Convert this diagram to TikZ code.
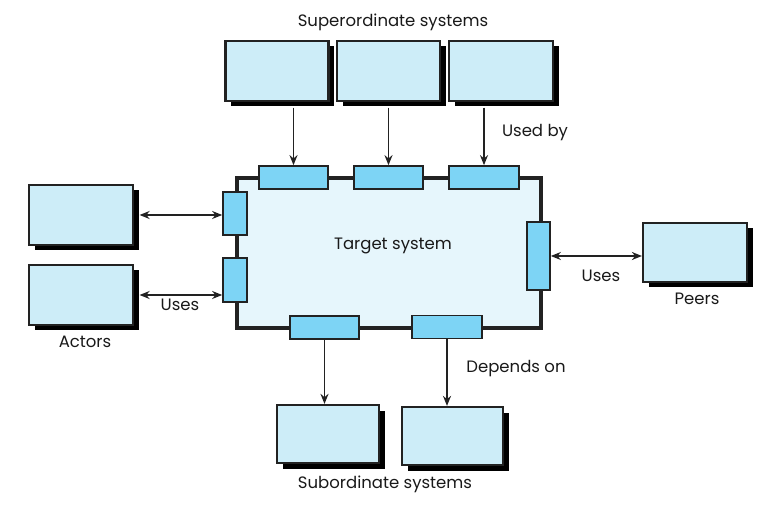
\documentclass[tikz,border=0pt]{standalone}
\usepackage{fontspec}
\setmainfont{Poppins}
\usetikzlibrary{arrows.meta,shadows}
\definecolor{boxfill}{HTML}{CDEDF8}
\definecolor{portfill}{HTML}{7DD4F5}
\definecolor{tgtfill}{HTML}{E6F6FC}
\definecolor{edge}{HTML}{222222}
\tikzset{
  sysbox/.style={draw=edge, line width=2.2pt, fill=boxfill, inner sep=0pt,
    drop shadow={shadow xshift=5.5pt, shadow yshift=-5.5pt, fill=black, opacity=1}},
  port/.style={draw=edge, line width=1.7pt, fill=portfill, inner sep=0pt},
  conn/.style={draw=edge, line width=1.9pt},
  tip/.tip={Stealth[length=10pt,width=8pt]},
  lbl/.style={font=\fontsize{16.5}{19}\selectfont, text=black!90, inner sep=0pt}
}
\begin{document}
\begin{tikzpicture}[x=1pt,y=-1pt]
\useasboundingbox (0,0) rectangle (776,510);
% target system
\node[draw=edge, line width=4.5pt, fill=tgtfill, minimum width=304pt, minimum height=150pt, inner sep=0pt] (tgt) at (389,253) {};
\node[lbl] (tgtl) at (393,246) {Target system};
% superordinate
\node[sysbox, minimum width=103pt, minimum height=60pt] (sup1) at (277,71) {};
\node[sysbox, minimum width=103pt, minimum height=60pt] (sup2) at (388.5,71) {};
\node[sysbox, minimum width=104pt, minimum height=60pt] (sup3) at (501,71) {};
% actors
\node[sysbox, minimum width=104pt, minimum height=60pt] (a1) at (81,215) {};
\node[sysbox, minimum width=104pt, minimum height=60pt] (a2) at (81,295) {};
% peers
\node[sysbox, minimum width=104pt, minimum height=59pt] (peer) at (695,252.5) {};
% subordinate
\node[sysbox, minimum width=102pt, minimum height=58pt] (s1) at (328,434) {};
\node[sysbox, minimum width=101pt, minimum height=58pt] (s2) at (452.5,436) {};
% ports
\node[port, minimum width=69pt, minimum height=23pt] (pt1) at (293.5,177.5) {};
\node[port, minimum width=69pt, minimum height=23pt] (pt2) at (388.5,177.5) {};
\node[port, minimum width=70pt, minimum height=23pt] (pt3) at (484,177.5) {};
\node[port, minimum width=24pt, minimum height=43pt] (pl1) at (235,213.5) {};
\node[port, minimum width=24pt, minimum height=44pt] (pl2) at (235,280) {};
\node[port, minimum width=23pt, minimum height=68pt] (pr) at (538.5,256) {};
\node[port, minimum width=69pt, minimum height=23pt] (pb1) at (324.5,327.5) {};
\node[port, minimum width=70pt, minimum height=23pt] (pb2) at (447,327) {};
% connectors
\draw[conn,-tip] ([yshift=-5.5pt]pt1.north |- sup1.south) -- (pt1.north);
\draw[conn,-tip] ([yshift=-5.5pt]pt2.north |- sup2.south) -- (pt2.north);
\draw[conn,-tip] ([yshift=-5.5pt]pt3.north |- sup3.south) -- (pt3.north);
\draw[conn,tip-tip] ([xshift=5.5pt]a1.east) -- (pl1.west |- a1.east);
\draw[conn,tip-tip] ([xshift=5.5pt]a2.east) -- (pl2.west |- a2.east);
\draw[conn,tip-tip] (pr.east) -- (pr.east -| peer.west);
\draw[conn,-tip] (pb1.south) -- (pb1.south |- s1.north);
\draw[conn,-tip] (pb2.south) -- (pb2.south |- s2.north);
% labels
\node[lbl] (supl) at (393,22) {Superordinate systems};
\node[lbl] (usedby) at (535,133) {Used by};
\node[lbl] (uses1) at (180,305) {Uses};
\node[lbl] (actl) at (85,342) {Actors};
\node[lbl] (uses2) at (601,276) {Uses};
\node[lbl] (peerl) at (697,299) {Peers};
\node[lbl] (dep) at (516,369) {Depends on};
\node[lbl] (subl) at (385,484) {Subordinate systems};
\end{tikzpicture}
\end{document}
